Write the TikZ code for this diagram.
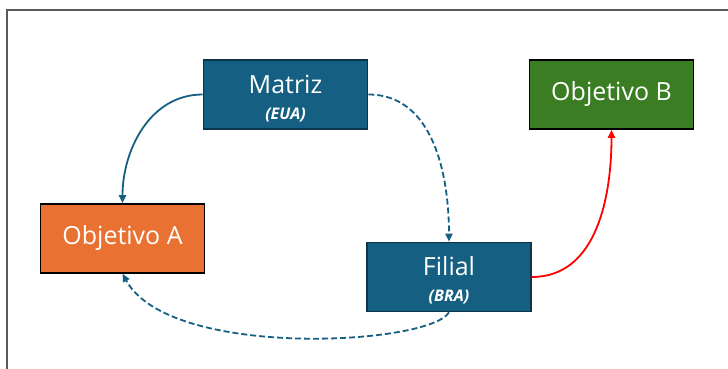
\documentclass[tikz,border=0pt]{standalone}
\usepackage{fontspec}
\setmainfont{Open Sans}
\usetikzlibrary{arrows.meta}
\definecolor{cblue}{HTML}{156082}
\definecolor{cblueb}{HTML}{0C344A}
\definecolor{corange}{HTML}{E97132}
\definecolor{cgreen}{HTML}{3A7D22}
\definecolor{cframe}{HTML}{595959}
\definecolor{cred}{HTML}{FF0000}
\newcommand{\subtxt}[1]{{\fontsize{16}{18}\selectfont\bfseries\itshape #1}}
\newcommand{\topstrut}{\rule{0pt}{26pt}}
\begin{document}
\begin{tikzpicture}[x=1pt,y=1pt,
  box/.style={draw, line width=1.6pt, minimum width=164pt, minimum height=69pt,
    text=white, align=center, inner sep=0pt, font=\fontsize{25}{27}\selectfont},
  bluebox/.style={box, fill=cblue, draw=cblueb},
  orangebox/.style={box, fill=corange, draw=black},
  greenbox/.style={box, fill=cgreen, draw=black},
  conn/.style={line width=1.8pt, -{Triangle[length=8pt,width=7pt]}},
  dashconn/.style={conn, dash pattern=on 6pt off 3pt}]
\useasboundingbox (0,0) rectangle (728,369);
\draw[cframe, line width=1.5pt] (7,0) |- (728,359);

\node[bluebox] (matriz) at (285.5,274.5) {\topstrut Matriz\\[-1pt]\subtxt{(EUA)}};
\node[orangebox] (objA) at (122.5,130.5) {Objetivo A};
\node[bluebox] (filial) at (449,92) {\topstrut Filial\\[-1pt]\subtxt{(BRA)}};
\node[greenbox] (objB) at (611.5,274.5) {Objetivo B};

\draw[conn, cblue] (matriz.west) to[out=180,in=90] (objA.north);
\draw[dashconn, cblue] (matriz.east) to[out=0,in=90] (filial.north);
\draw[dashconn, cblue] (filial.south) .. controls (430,24) and (170,9) .. (objA.south);
\draw[conn, cred] (filial.east) to[out=0,in=-90] (objB.south);
\end{tikzpicture}
\end{document}
